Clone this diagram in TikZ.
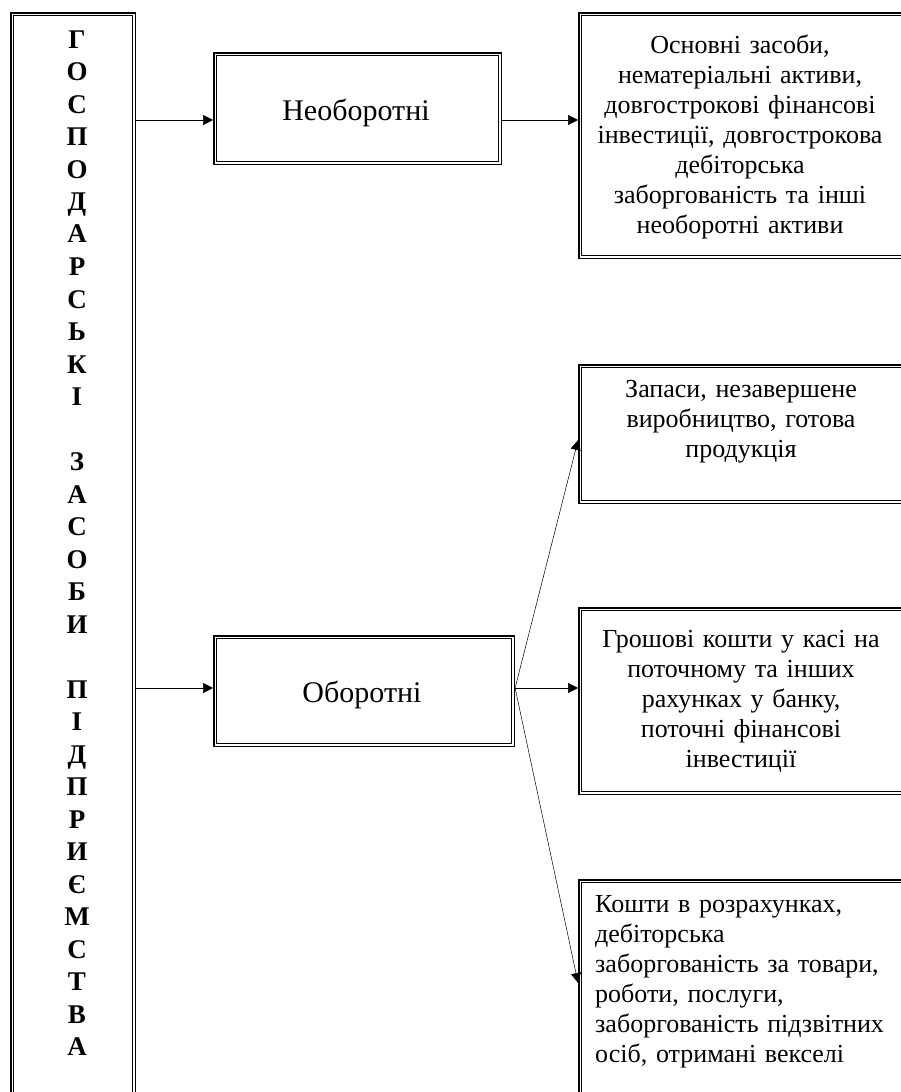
\documentclass[tikz,border=0pt]{standalone}
\usepackage{fontspec}
\setmainfont{Liberation Serif}
\usetikzlibrary{arrows.meta}
\begin{document}
\begin{tikzpicture}[x=1pt,y=-1pt,
  frame/.style={draw, rectangle, line width=1.5pt, double, double distance=1.2pt,
    inner sep=0pt, outer sep=2.1pt, anchor=north west},
  conn/.style={draw, line width=0.5pt, -{Triangle[length=10pt,width=10pt]}},
  head/.style={inner sep=0pt, font=\fontsize{30}{34}\selectfont},
  txt/.style={inner sep=0pt, font=\fontsize{26}{30}\selectfont},
  letters/.style={inner sep=0pt, text width=34pt, align=center,
    font=\fontsize{27}{32.5}\selectfont\bfseries}]
\useasboundingbox (0,0) rectangle (901,1092);

% frames (corner on the centre of the double line)
\node[frame, minimum width=121.8pt, minimum height=1110pt] (L) at (10.1,12.1) {};
\node[frame, minimum width=284.8pt, minimum height=108.8pt] (N) at (213.1,52.1) {};
\node[frame, minimum width=297.8pt, minimum height=107.8pt] (O) at (213.1,635.1) {};
\node[frame, minimum width=322.8pt, minimum height=242.8pt] (A) at (578.1,12.1) {};
\node[frame, minimum width=322.8pt, minimum height=135.8pt] (B) at (578.1,364.1) {};
\node[frame, minimum width=322.8pt, minimum height=183.8pt] (C) at (578.1,607.1) {};
\node[frame, minimum width=322.8pt, minimum height=250pt] (D) at (578.1,879.1) {};

% texts
\node[letters, anchor=base] (Lt) at (77,48) {Г\\О\\С\\П\\О\\Д\\А\\Р\\С\\Ь\\К\\І\\\mbox{}\\З\\А\\С\\О\\Б\\И\\\mbox{}\\П\\І\\Д\\П\\Р\\И\\Є\\М\\С\\Т\\В\\А};
\node[head, anchor=base] (Nt) at (356,120) {Необоротні};
\node[head, anchor=base] (Ot) at (362,702) {Оборотні};
\node[txt, anchor=base, text width=320pt, align=center] (At) at (740,53)
  {Основні засоби,\\нематеріальні активи,\\довгострокові фінансові\\інвестиції, довгострокова\\дебіторська\\заборгованість та інші\\необоротні активи};
\node[txt, anchor=base, text width=320pt, align=center] (Bt) at (741,397)
  {Запаси, незавершене\\виробництво, готова\\продукція};
\node[txt, anchor=base, text width=320pt, align=center] (Ct) at (741,647)
  {Грошові кошти у касі на\\поточному та інших\\рахунках у банку,\\поточні фінансові\\інвестиції};
\node[txt, anchor=base west, text width=340pt, align=left] (Dt) at (595,912)
  {Кошти в розрахунках,\\дебіторська\\заборгованість за товари,\\роботи, послуги,\\заборгованість підзвітних\\осіб, отримані векселі};

% connector levels
\coordinate (yN) at (0,120);
\coordinate (yB) at (0,440);
\coordinate (yO) at (0,688);
\coordinate (yD) at (0,983);

\draw[conn] (L.east |- yN) -- (N.west |- yN);
\draw[conn] (N.east |- yN) -- (A.west |- yN);
\draw[conn] (L.east |- yO) -- (O.west |- yO);
\draw[conn] (O.east |- yO) -- (B.west |- yB);
\draw[conn] (O.east |- yO) -- (C.west |- yO);
\draw[conn] (O.east |- yO) -- (D.west |- yD);
\end{tikzpicture}
\end{document}
